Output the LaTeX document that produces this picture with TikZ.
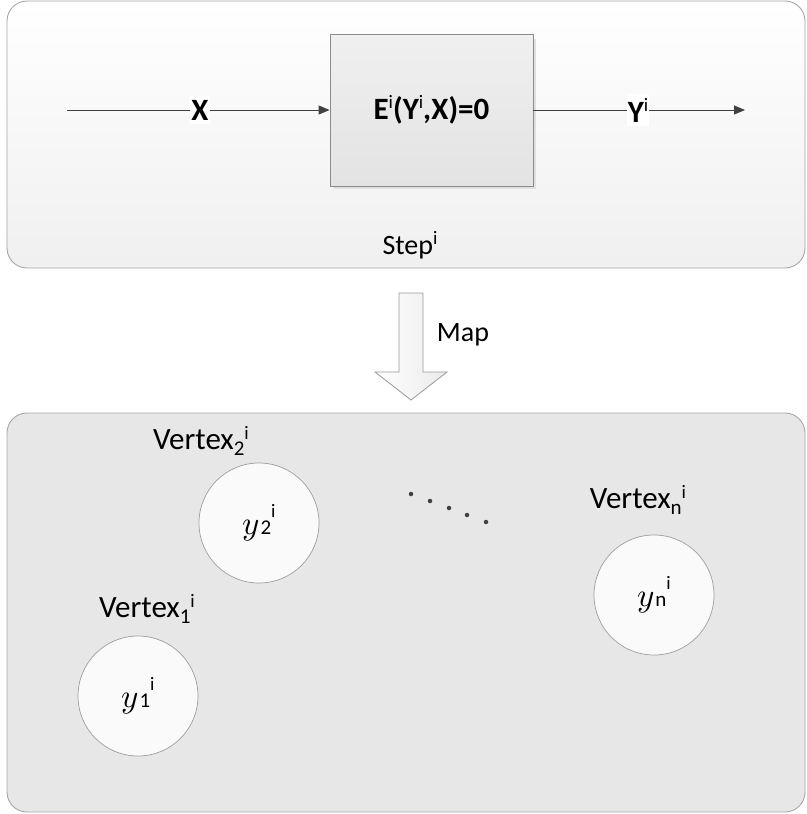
\documentclass[tikz,border=0pt]{standalone}
\usepackage{fontspec}
\setmainfont{Carlito}
\usepackage{unicode-math}
\setmathfont{Latin Modern Math}
\usetikzlibrary{arrows.meta}
\definecolor{edgegray}{HTML}{A6A6A6}
\definecolor{linegray}{HTML}{404040}
\definecolor{panelgray}{HTML}{E7E7E7}
\newcommand\supI[1][9pt]{\raisebox{#1}{\mdseries\fontsize{19}{19}\selectfont i}}
\newcommand\subN[1]{\raisebox{-6pt}{\fontsize{21}{21}\selectfont #1}}
\newcommand\yLab[1]{{\fontsize{33}{33}\selectfont$y$}\kern1pt{\fontsize{21}{21}\selectfont #1}\raisebox{17pt}{\fontsize{19}{19}\selectfont i}}
\tikzset{
  panel/.style={draw=edgegray, line width=0.9pt, rounded corners=20pt, inner sep=0pt},
  flow/.style={draw=linegray, line width=0.9pt, -{Triangle[length=11pt,width=9pt]}},
  tag/.style={font=\bfseries\fontsize{31}{31}\selectfont, fill=white, inner xsep=1pt, inner ysep=4pt},
  plain/.style={font=\fontsize{28}{28}\selectfont, inner sep=0pt},
  vlab/.style={font=\fontsize{31}{31}\selectfont, inner sep=0pt},
  vtx/.style={circle, draw=black!38, line width=0.7pt, fill=black!2, minimum size=120pt, inner sep=0pt},
  dotmark/.style={circle, fill=black!75, inner sep=0pt, minimum size=4.5pt}
}
\begin{document}
\begin{tikzpicture}[x=1pt,y=-1pt]
\useasboundingbox (0,0) rectangle (806,814);
% top panel
\node[panel, top color=white, bottom color=black!6, minimum width=798pt, minimum height=267pt] (top) at (406,134.5) {};
\fill[black!12] (334,39) rectangle (536,189);
\node[draw=black!45, line width=0.8pt, top color=black!6, bottom color=black!11,
      minimum width=203pt, minimum height=152pt, inner sep=0pt,
      font=\bfseries\fontsize{31}{31}\selectfont] (E) at (431.5,110) {E\supI[11pt](Y\supI[11pt],X)=0};
\coordinate (xin) at (67,110);
\coordinate (yout) at (745,110);
\draw[flow] (xin) -- (E.west);
\draw[flow] (E.east) -- (yout);
\node[tag] (X) at (200,110) {X};
\node[tag] (Y) at (638,110) {Y\supI[11pt]};
\node[plain] (step) at (410,245) {Step\supI[10pt]};
% map arrow
\draw[draw=black!40, line width=0.8pt, left color=white, right color=black!8]
  (399,293) -- (423,293) -- (423,372) -- (447,372) -- (411,400) -- (375,372) -- (399,372) -- cycle;
\node[plain] (map) at (463,335) {Map};
% bottom panel
\node[panel, fill=panelgray, minimum width=798pt, minimum height=399pt] (bottom) at (406,612.5) {};
\node[vtx] (v2) at (259,523) {\yLab{2}};
\node[vtx] (v1) at (138,696) {\yLab{1}};
\node[vtx] (vn) at (654,595) {\yLab{n}};
\node[vlab] (l2) at (201,441) {Vertex\subN{2}\supI[10pt]};
\node[vlab] (l1) at (147,609) {Vertex\subN{1}\supI[10pt]};
\node[vlab] (ln) at (638,500) {Vertex\subN{n}\supI[10pt]};
\node[dotmark] (d1) at (411,494) {};
\node[dotmark] (d2) at (430,501) {};
\node[dotmark] (d3) at (449,508) {};
\node[dotmark] (d4) at (467,515) {};
\node[dotmark] (d5) at (486,522) {};
\end{tikzpicture}
\end{document}
